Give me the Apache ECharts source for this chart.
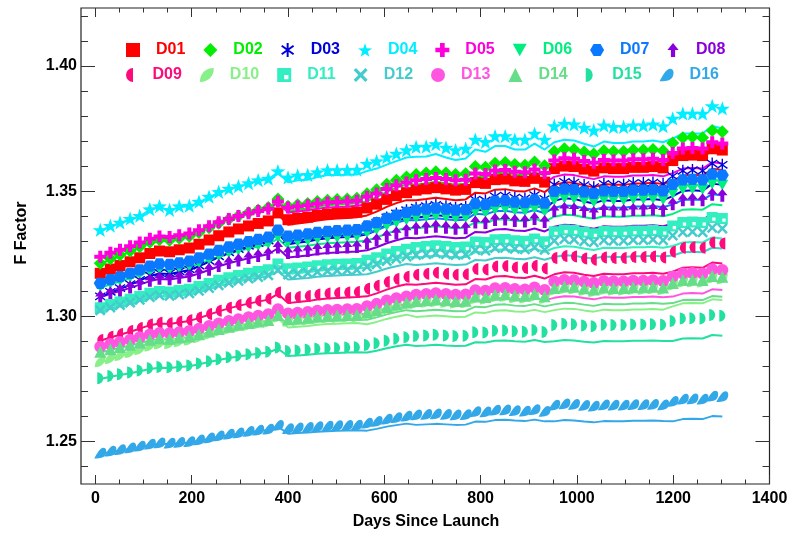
<!DOCTYPE html>
<html><head><meta charset="utf-8">
<script src="https://cdn.jsdelivr.net/npm/echarts@6.0.0/dist/echarts.min.js"></script>
<style>html,body{margin:0;padding:0;background:#fff}#c{width:793px;height:537px}</style>
</head><body><div id="c"></div>
<script>
// Days since launch (x of every marker / line vertex)
const days = [10,31,51,72,92,113,133,154,174,195,215,236,256,277,297,318,338,359,379,400,420,441,461,482,502,523,543,564,584,605,625,646,666,687,707,728,748,769,789,810,830,851,871,892,912,933,953,974,994,1015,1035,1056,1076,1097,1117,1138,1158,1179,1199,1220,1240,1261,1281,1302];

// Tick labels
const xMajor = [0,200,400,600,800,1000,1200,1400];
const xMinor = [50,100,150,250,300,350,450,500,550,650,700,750,850,900,950,1050,1100,1150,1250,1300,1350];
const yMajor = [1.25,1.30,1.35,1.40];
const yMinor = [1.24,1.26,1.27,1.28,1.29,1.31,1.32,1.33,1.34,1.36,1.37,1.38,1.39,1.41,1.42];

const names = ['D01','D02','D03','D04','D05','D06','D07','D08','D09','D10','D11','D12','D13','D14','D15','D16'];

// Markers (F factor) and fitted lines per detector
const D01 = [1.3172,1.3189,1.3203,1.3218,1.3234,1.3251,1.3261,1.3258,1.3266,1.3273,1.3288,1.3305,1.3322,1.3337,1.3349,1.3361,1.3371,1.3381,1.3413,1.3386,1.3391,1.3396,1.3403,1.3408,1.3411,1.3413,1.3416,1.3433,1.3448,1.3467,1.3482,1.3494,1.3504,1.3509,1.3514,1.3509,1.3504,1.3507,1.3534,1.3531,1.3546,1.3548,1.3541,1.3539,1.3551,1.3536,1.3590,1.3600,1.3598,1.3588,1.3580,1.3593,1.3590,1.3590,1.3595,1.3595,1.3598,1.3593,1.3622,1.3642,1.3644,1.3642,1.3669,1.3664];
const D01_fit = [1.3169,1.3186,1.3200,1.3215,1.3231,1.3248,1.3258,1.3255,1.3263,1.3270,1.3285,1.3302,1.3319,1.3334,1.3346,1.3358,1.3368,1.3378,1.3408,1.3366,1.3371,1.3376,1.3383,1.3388,1.3391,1.3393,1.3396,1.3403,1.3418,1.3437,1.3452,1.3464,1.3464,1.3469,1.3474,1.3469,1.3464,1.3467,1.3494,1.3491,1.3506,1.3508,1.3501,1.3499,1.3511,1.3496,1.3525,1.3535,1.3533,1.3523,1.3515,1.3528,1.3525,1.3525,1.3530,1.3530,1.3533,1.3528,1.3542,1.3562,1.3564,1.3562,1.3589,1.3584];

const D02 = [1.3212,1.3230,1.3245,1.3261,1.3278,1.3296,1.3306,1.3304,1.3312,1.3320,1.3335,1.3354,1.3372,1.3388,1.3401,1.3414,1.3425,1.3435,1.3469,1.3440,1.3446,1.3451,1.3459,1.3464,1.3467,1.3469,1.3472,1.3490,1.3506,1.3527,1.3543,1.3556,1.3566,1.3572,1.3577,1.3572,1.3566,1.3569,1.3598,1.3595,1.3611,1.3614,1.3606,1.3603,1.3616,1.3601,1.3658,1.3669,1.3666,1.3656,1.3648,1.3661,1.3658,1.3658,1.3664,1.3664,1.3666,1.3661,1.3692,1.3713,1.3716,1.3713,1.3742,1.3737];
const D02_fit = [1.3209,1.3227,1.3242,1.3258,1.3275,1.3293,1.3303,1.3301,1.3309,1.3317,1.3332,1.3351,1.3369,1.3385,1.3398,1.3411,1.3422,1.3432,1.3464,1.3420,1.3426,1.3431,1.3439,1.3444,1.3447,1.3449,1.3452,1.3460,1.3476,1.3497,1.3513,1.3526,1.3526,1.3532,1.3537,1.3532,1.3526,1.3529,1.3558,1.3555,1.3571,1.3574,1.3566,1.3563,1.3576,1.3561,1.3593,1.3604,1.3601,1.3591,1.3583,1.3596,1.3593,1.3593,1.3599,1.3599,1.3601,1.3596,1.3612,1.3633,1.3636,1.3633,1.3662,1.3657];

const D03 = [1.3080,1.3098,1.3113,1.3129,1.3146,1.3164,1.3174,1.3172,1.3180,1.3188,1.3203,1.3222,1.3240,1.3256,1.3269,1.3282,1.3293,1.3303,1.3337,1.3308,1.3314,1.3319,1.3327,1.3332,1.3335,1.3337,1.3340,1.3358,1.3374,1.3395,1.3411,1.3424,1.3434,1.3440,1.3445,1.3440,1.3434,1.3437,1.3466,1.3463,1.3479,1.3482,1.3474,1.3471,1.3484,1.3469,1.3526,1.3537,1.3534,1.3524,1.3516,1.3529,1.3526,1.3526,1.3532,1.3532,1.3534,1.3529,1.3560,1.3581,1.3584,1.3581,1.3610,1.3605];
const D03_fit = [1.3077,1.3095,1.3110,1.3126,1.3143,1.3161,1.3171,1.3169,1.3177,1.3185,1.3200,1.3219,1.3237,1.3253,1.3266,1.3279,1.3290,1.3300,1.3332,1.3288,1.3294,1.3299,1.3307,1.3312,1.3315,1.3317,1.3320,1.3328,1.3344,1.3365,1.3381,1.3394,1.3394,1.3400,1.3405,1.3400,1.3394,1.3397,1.3426,1.3423,1.3439,1.3442,1.3434,1.3431,1.3444,1.3429,1.3461,1.3472,1.3469,1.3459,1.3451,1.3464,1.3461,1.3461,1.3467,1.3467,1.3469,1.3464,1.3480,1.3501,1.3504,1.3501,1.3530,1.3525];

const D04 = [1.3345,1.3362,1.3375,1.3390,1.3402,1.3428,1.3440,1.3425,1.3440,1.3442,1.3458,1.3478,1.3497,1.3510,1.3520,1.3532,1.3544,1.3550,1.3580,1.3555,1.3563,1.3565,1.3576,1.3584,1.3584,1.3585,1.3586,1.3610,1.3620,1.3636,1.3650,1.3664,1.3677,1.3678,1.3688,1.3674,1.3664,1.3670,1.3706,1.3697,1.3720,1.3720,1.3706,1.3706,1.3730,1.3706,1.3760,1.3770,1.3767,1.3754,1.3743,1.3763,1.3757,1.3757,1.3763,1.3763,1.3767,1.3760,1.3790,1.3810,1.3810,1.3810,1.3840,1.3830];
const D04_fit = [1.3342,1.3359,1.3372,1.3387,1.3399,1.3425,1.3437,1.3422,1.3437,1.3439,1.3455,1.3475,1.3494,1.3507,1.3517,1.3529,1.3541,1.3547,1.3575,1.3535,1.3543,1.3545,1.3556,1.3564,1.3564,1.3565,1.3566,1.3580,1.3590,1.3606,1.3620,1.3634,1.3637,1.3638,1.3648,1.3634,1.3624,1.3630,1.3666,1.3657,1.3680,1.3680,1.3666,1.3666,1.3690,1.3666,1.3695,1.3705,1.3702,1.3689,1.3678,1.3698,1.3692,1.3692,1.3698,1.3698,1.3702,1.3695,1.3710,1.3730,1.3730,1.3730,1.3760,1.3750];

const D05 = [1.3238,1.3254,1.3266,1.3280,1.3295,1.3310,1.3319,1.3317,1.3324,1.3331,1.3344,1.3360,1.3376,1.3389,1.3401,1.3412,1.3421,1.3430,1.3459,1.3435,1.3439,1.3444,1.3450,1.3455,1.3457,1.3459,1.3462,1.3478,1.3491,1.3509,1.3523,1.3534,1.3543,1.3548,1.3552,1.3548,1.3543,1.3545,1.3570,1.3568,1.3582,1.3584,1.3577,1.3575,1.3586,1.3572,1.3622,1.3631,1.3629,1.3620,1.3613,1.3624,1.3622,1.3622,1.3627,1.3627,1.3629,1.3624,1.3652,1.3670,1.3672,1.3670,1.3695,1.3690];
const D05_fit = [1.3235,1.3251,1.3263,1.3277,1.3292,1.3307,1.3316,1.3314,1.3321,1.3328,1.3341,1.3357,1.3373,1.3386,1.3398,1.3409,1.3418,1.3427,1.3454,1.3415,1.3419,1.3424,1.3430,1.3435,1.3437,1.3439,1.3442,1.3448,1.3461,1.3479,1.3493,1.3504,1.3503,1.3508,1.3512,1.3508,1.3503,1.3505,1.3530,1.3528,1.3542,1.3544,1.3537,1.3535,1.3546,1.3532,1.3557,1.3566,1.3564,1.3555,1.3548,1.3559,1.3557,1.3557,1.3562,1.3562,1.3564,1.3559,1.3572,1.3590,1.3592,1.3590,1.3615,1.3610];

const D06 = [1.3117,1.3131,1.3142,1.3155,1.3168,1.3182,1.3190,1.3188,1.3194,1.3200,1.3213,1.3227,1.3241,1.3253,1.3264,1.3274,1.3282,1.3290,1.3316,1.3294,1.3298,1.3302,1.3308,1.3312,1.3314,1.3316,1.3318,1.3333,1.3345,1.3361,1.3373,1.3384,1.3392,1.3396,1.3400,1.3396,1.3392,1.3394,1.3416,1.3414,1.3426,1.3428,1.3422,1.3420,1.3430,1.3418,1.3463,1.3471,1.3469,1.3461,1.3455,1.3465,1.3463,1.3463,1.3467,1.3467,1.3469,1.3465,1.3489,1.3506,1.3508,1.3506,1.3528,1.3524];
const D06_fit = [1.3114,1.3128,1.3139,1.3152,1.3165,1.3179,1.3187,1.3185,1.3191,1.3197,1.3210,1.3224,1.3238,1.3250,1.3261,1.3271,1.3279,1.3287,1.3311,1.3274,1.3278,1.3282,1.3288,1.3292,1.3294,1.3296,1.3298,1.3303,1.3315,1.3331,1.3343,1.3354,1.3352,1.3356,1.3360,1.3356,1.3352,1.3354,1.3376,1.3374,1.3386,1.3388,1.3382,1.3380,1.3390,1.3378,1.3398,1.3406,1.3404,1.3396,1.3390,1.3400,1.3398,1.3398,1.3402,1.3402,1.3404,1.3400,1.3409,1.3426,1.3428,1.3426,1.3448,1.3444];

const D07 = [1.3132,1.3147,1.3159,1.3172,1.3186,1.3201,1.3210,1.3208,1.3214,1.3221,1.3234,1.3249,1.3264,1.3277,1.3288,1.3298,1.3307,1.3316,1.3344,1.3320,1.3324,1.3329,1.3335,1.3339,1.3342,1.3344,1.3346,1.3361,1.3374,1.3391,1.3404,1.3415,1.3424,1.3428,1.3432,1.3428,1.3424,1.3426,1.3450,1.3447,1.3460,1.3462,1.3456,1.3454,1.3465,1.3452,1.3499,1.3508,1.3506,1.3497,1.3491,1.3501,1.3499,1.3499,1.3504,1.3504,1.3506,1.3501,1.3527,1.3545,1.3547,1.3545,1.3568,1.3564];
const D07_fit = [1.3129,1.3144,1.3156,1.3169,1.3183,1.3198,1.3207,1.3205,1.3211,1.3218,1.3231,1.3246,1.3261,1.3274,1.3285,1.3295,1.3304,1.3313,1.3339,1.3300,1.3304,1.3309,1.3315,1.3319,1.3322,1.3324,1.3326,1.3331,1.3344,1.3361,1.3374,1.3385,1.3384,1.3388,1.3392,1.3388,1.3384,1.3386,1.3410,1.3407,1.3420,1.3422,1.3416,1.3414,1.3425,1.3412,1.3434,1.3443,1.3441,1.3432,1.3426,1.3436,1.3434,1.3434,1.3439,1.3439,1.3441,1.3436,1.3447,1.3465,1.3467,1.3465,1.3488,1.3484];

const D08 = [1.3079,1.3093,1.3104,1.3117,1.3130,1.3144,1.3152,1.3150,1.3156,1.3162,1.3174,1.3188,1.3203,1.3215,1.3225,1.3235,1.3243,1.3251,1.3277,1.3255,1.3259,1.3263,1.3269,1.3273,1.3275,1.3277,1.3279,1.3294,1.3306,1.3322,1.3334,1.3344,1.3352,1.3356,1.3360,1.3356,1.3352,1.3354,1.3377,1.3375,1.3387,1.3389,1.3383,1.3381,1.3391,1.3379,1.3423,1.3431,1.3429,1.3421,1.3415,1.3425,1.3423,1.3423,1.3427,1.3427,1.3429,1.3425,1.3450,1.3466,1.3468,1.3466,1.3488,1.3484];
const D08_fit = [1.3076,1.3090,1.3101,1.3114,1.3127,1.3141,1.3149,1.3147,1.3153,1.3159,1.3171,1.3185,1.3200,1.3212,1.3222,1.3232,1.3240,1.3248,1.3272,1.3235,1.3239,1.3243,1.3249,1.3253,1.3255,1.3257,1.3259,1.3264,1.3276,1.3292,1.3304,1.3314,1.3312,1.3316,1.3320,1.3316,1.3312,1.3314,1.3337,1.3335,1.3347,1.3349,1.3343,1.3341,1.3351,1.3339,1.3358,1.3366,1.3364,1.3356,1.3350,1.3360,1.3358,1.3358,1.3362,1.3362,1.3364,1.3360,1.3370,1.3386,1.3388,1.3386,1.3408,1.3404];

const D09 = [1.2906,1.2919,1.2930,1.2942,1.2954,1.2968,1.2975,1.2973,1.2979,1.2985,1.2996,1.3010,1.3023,1.3035,1.3045,1.3054,1.3062,1.3070,1.3095,1.3073,1.3077,1.3081,1.3087,1.3091,1.3093,1.3095,1.3097,1.3110,1.3122,1.3137,1.3149,1.3158,1.3166,1.3170,1.3174,1.3170,1.3166,1.3168,1.3189,1.3187,1.3199,1.3201,1.3195,1.3193,1.3202,1.3191,1.3233,1.3241,1.3239,1.3231,1.3226,1.3235,1.3233,1.3233,1.3237,1.3237,1.3239,1.3235,1.3258,1.3274,1.3276,1.3274,1.3295,1.3291];
const D09_fit = [1.2903,1.2916,1.2927,1.2939,1.2951,1.2965,1.2972,1.2970,1.2976,1.2982,1.2993,1.3007,1.3020,1.3032,1.3042,1.3051,1.3059,1.3067,1.3090,1.3053,1.3057,1.3061,1.3067,1.3071,1.3073,1.3075,1.3077,1.3080,1.3092,1.3107,1.3119,1.3128,1.3126,1.3130,1.3134,1.3130,1.3126,1.3128,1.3149,1.3147,1.3159,1.3161,1.3155,1.3153,1.3162,1.3151,1.3168,1.3176,1.3174,1.3166,1.3161,1.3170,1.3168,1.3168,1.3172,1.3172,1.3174,1.3170,1.3178,1.3194,1.3196,1.3194,1.3215,1.3211];

const D10 = [1.2819,1.2832,1.2844,1.2856,1.2868,1.2882,1.2891,1.2892,1.2900,1.2906,1.2917,1.2930,1.2942,1.2951,1.2959,1.2966,1.2972,1.2978,1.2998,1.2981,1.2984,1.2987,1.2992,1.2995,1.2996,1.2998,1.2999,1.3009,1.3018,1.3030,1.3039,1.3047,1.3053,1.3056,1.3059,1.3056,1.3053,1.3054,1.3071,1.3069,1.3078,1.3080,1.3075,1.3074,1.3081,1.3072,1.3105,1.3111,1.3110,1.3104,1.3099,1.3107,1.3105,1.3105,1.3108,1.3108,1.3110,1.3107,1.3125,1.3137,1.3138,1.3137,1.3153,1.3150];
const D10_fit = [1.2816,1.2829,1.2841,1.2853,1.2865,1.2879,1.2888,1.2889,1.2897,1.2903,1.2914,1.2927,1.2939,1.2948,1.2956,1.2963,1.2969,1.2975,1.2993,1.2956,1.2959,1.2962,1.2967,1.2970,1.2971,1.2973,1.2974,1.2969,1.2978,1.2990,1.2999,1.3007,1.2998,1.3001,1.3004,1.3001,1.2998,1.2999,1.3016,1.3014,1.3023,1.3025,1.3020,1.3019,1.3026,1.3017,1.3025,1.3031,1.3030,1.3024,1.3019,1.3027,1.3025,1.3025,1.3028,1.3028,1.3030,1.3027,1.3040,1.3052,1.3053,1.3052,1.3068,1.3065];

const D11 = [1.3035,1.3047,1.3057,1.3068,1.3079,1.3092,1.3099,1.3097,1.3103,1.3108,1.3119,1.3131,1.3144,1.3154,1.3163,1.3172,1.3179,1.3186,1.3209,1.3190,1.3193,1.3197,1.3202,1.3206,1.3208,1.3209,1.3211,1.3224,1.3234,1.3249,1.3259,1.3268,1.3275,1.3279,1.3282,1.3279,1.3275,1.3277,1.3297,1.3295,1.3306,1.3307,1.3302,1.3300,1.3309,1.3298,1.3338,1.3345,1.3343,1.3336,1.3330,1.3339,1.3338,1.3338,1.3341,1.3341,1.3343,1.3339,1.3361,1.3375,1.3377,1.3375,1.3395,1.3391];
const D11_fit = [1.3032,1.3044,1.3054,1.3065,1.3076,1.3089,1.3096,1.3094,1.3100,1.3105,1.3116,1.3128,1.3141,1.3151,1.3160,1.3169,1.3176,1.3183,1.3204,1.3170,1.3173,1.3177,1.3182,1.3186,1.3188,1.3189,1.3191,1.3194,1.3204,1.3219,1.3229,1.3238,1.3235,1.3239,1.3242,1.3239,1.3235,1.3237,1.3257,1.3255,1.3266,1.3267,1.3262,1.3260,1.3269,1.3258,1.3273,1.3280,1.3278,1.3271,1.3265,1.3274,1.3273,1.3273,1.3276,1.3276,1.3278,1.3274,1.3281,1.3295,1.3297,1.3295,1.3315,1.3311];

const D12 = [1.3025,1.3036,1.3045,1.3055,1.3066,1.3077,1.3084,1.3082,1.3087,1.3092,1.3102,1.3113,1.3124,1.3134,1.3142,1.3151,1.3157,1.3164,1.3185,1.3167,1.3170,1.3173,1.3178,1.3181,1.3183,1.3185,1.3186,1.3198,1.3208,1.3221,1.3230,1.3239,1.3245,1.3248,1.3252,1.3248,1.3245,1.3247,1.3265,1.3263,1.3273,1.3274,1.3270,1.3268,1.3276,1.3266,1.3302,1.3309,1.3307,1.3300,1.3296,1.3304,1.3302,1.3302,1.3305,1.3305,1.3307,1.3304,1.3323,1.3336,1.3338,1.3336,1.3354,1.3351];
const D12_fit = [1.3022,1.3033,1.3042,1.3052,1.3063,1.3074,1.3081,1.3079,1.3084,1.3089,1.3099,1.3110,1.3121,1.3131,1.3139,1.3148,1.3154,1.3161,1.3180,1.3147,1.3150,1.3153,1.3158,1.3161,1.3163,1.3165,1.3166,1.3168,1.3178,1.3191,1.3200,1.3209,1.3205,1.3208,1.3212,1.3208,1.3205,1.3207,1.3225,1.3223,1.3233,1.3234,1.3230,1.3228,1.3236,1.3226,1.3237,1.3244,1.3242,1.3235,1.3231,1.3239,1.3237,1.3237,1.3240,1.3240,1.3242,1.3239,1.3243,1.3256,1.3258,1.3256,1.3274,1.3271];

const D13 = [1.2879,1.2890,1.2898,1.2907,1.2917,1.2928,1.2934,1.2933,1.2937,1.2942,1.2951,1.2962,1.2972,1.2982,1.2989,1.2997,1.3003,1.3009,1.3029,1.3012,1.3015,1.3018,1.3023,1.3026,1.3027,1.3029,1.3030,1.3041,1.3050,1.3063,1.3072,1.3079,1.3086,1.3089,1.3092,1.3089,1.3086,1.3087,1.3104,1.3102,1.3112,1.3113,1.3109,1.3107,1.3115,1.3105,1.3139,1.3145,1.3144,1.3138,1.3133,1.3141,1.3139,1.3139,1.3142,1.3142,1.3144,1.3141,1.3159,1.3171,1.3173,1.3171,1.3188,1.3185];
const D13_fit = [1.2876,1.2887,1.2895,1.2904,1.2914,1.2925,1.2931,1.2930,1.2934,1.2939,1.2948,1.2959,1.2969,1.2979,1.2986,1.2994,1.3000,1.3006,1.3024,1.2992,1.2995,1.2998,1.3003,1.3006,1.3007,1.3009,1.3010,1.3011,1.3020,1.3033,1.3042,1.3049,1.3046,1.3049,1.3052,1.3049,1.3046,1.3047,1.3064,1.3062,1.3072,1.3073,1.3069,1.3067,1.3075,1.3065,1.3074,1.3080,1.3079,1.3073,1.3068,1.3076,1.3074,1.3074,1.3077,1.3077,1.3079,1.3076,1.3079,1.3091,1.3093,1.3091,1.3108,1.3105];

const D14 = [1.2859,1.2869,1.2878,1.2887,1.2896,1.2907,1.2913,1.2911,1.2916,1.2920,1.2929,1.2940,1.2950,1.2959,1.2967,1.2974,1.2980,1.2986,1.3006,1.2989,1.2992,1.2995,1.3000,1.3003,1.3004,1.3006,1.3007,1.3017,1.3026,1.3038,1.3047,1.3055,1.3061,1.3064,1.3067,1.3064,1.3061,1.3062,1.3079,1.3077,1.3086,1.3088,1.3083,1.3082,1.3089,1.3080,1.3113,1.3119,1.3118,1.3112,1.3107,1.3115,1.3113,1.3113,1.3116,1.3116,1.3118,1.3115,1.3133,1.3145,1.3146,1.3145,1.3161,1.3158];
const D14_fit = [1.2856,1.2866,1.2875,1.2884,1.2893,1.2904,1.2910,1.2908,1.2913,1.2917,1.2926,1.2937,1.2947,1.2956,1.2964,1.2971,1.2977,1.2983,1.3001,1.2969,1.2972,1.2975,1.2980,1.2983,1.2984,1.2986,1.2987,1.2987,1.2996,1.3008,1.3017,1.3025,1.3021,1.3024,1.3027,1.3024,1.3021,1.3022,1.3039,1.3037,1.3046,1.3048,1.3043,1.3042,1.3049,1.3040,1.3048,1.3054,1.3053,1.3047,1.3042,1.3050,1.3048,1.3048,1.3051,1.3051,1.3053,1.3050,1.3053,1.3065,1.3066,1.3065,1.3081,1.3078];

const D15 = [1.2753,1.2762,1.2769,1.2776,1.2784,1.2793,1.2798,1.2797,1.2801,1.2804,1.2812,1.2821,1.2829,1.2837,1.2843,1.2849,1.2854,1.2859,1.2876,1.2862,1.2864,1.2867,1.2871,1.2873,1.2874,1.2876,1.2877,1.2886,1.2893,1.2903,1.2911,1.2917,1.2922,1.2924,1.2927,1.2924,1.2922,1.2923,1.2937,1.2936,1.2943,1.2944,1.2941,1.2939,1.2946,1.2938,1.2966,1.2971,1.2969,1.2964,1.2961,1.2967,1.2966,1.2966,1.2968,1.2968,1.2969,1.2967,1.2982,1.2992,1.2993,1.2992,1.3006,1.3003];
const D15_fit = [1.2750,1.2759,1.2766,1.2773,1.2781,1.2790,1.2795,1.2794,1.2798,1.2801,1.2809,1.2818,1.2826,1.2834,1.2840,1.2846,1.2851,1.2856,1.2871,1.2842,1.2844,1.2847,1.2851,1.2853,1.2854,1.2856,1.2857,1.2856,1.2863,1.2873,1.2881,1.2887,1.2882,1.2884,1.2887,1.2884,1.2882,1.2883,1.2897,1.2896,1.2903,1.2904,1.2901,1.2899,1.2906,1.2898,1.2901,1.2906,1.2904,1.2899,1.2896,1.2902,1.2901,1.2901,1.2903,1.2903,1.2904,1.2902,1.2902,1.2912,1.2913,1.2912,1.2926,1.2923];

const D16 = [1.2454,1.2462,1.2468,1.2475,1.2482,1.2490,1.2495,1.2494,1.2497,1.2500,1.2507,1.2515,1.2523,1.2530,1.2535,1.2541,1.2546,1.2550,1.2565,1.2552,1.2555,1.2557,1.2560,1.2562,1.2564,1.2565,1.2566,1.2574,1.2581,1.2590,1.2596,1.2602,1.2607,1.2609,1.2611,1.2609,1.2607,1.2608,1.2620,1.2619,1.2626,1.2627,1.2624,1.2622,1.2628,1.2621,1.2646,1.2651,1.2649,1.2645,1.2642,1.2647,1.2646,1.2646,1.2648,1.2648,1.2649,1.2647,1.2661,1.2670,1.2671,1.2670,1.2682,1.2680];
const D16_fit = [1.2451,1.2459,1.2465,1.2472,1.2479,1.2487,1.2492,1.2491,1.2494,1.2497,1.2504,1.2512,1.2520,1.2527,1.2532,1.2538,1.2543,1.2547,1.2560,1.2532,1.2535,1.2537,1.2540,1.2542,1.2544,1.2545,1.2546,1.2544,1.2551,1.2560,1.2566,1.2572,1.2567,1.2569,1.2571,1.2569,1.2567,1.2568,1.2580,1.2579,1.2586,1.2587,1.2584,1.2582,1.2588,1.2581,1.2581,1.2586,1.2584,1.2580,1.2577,1.2582,1.2581,1.2581,1.2583,1.2583,1.2584,1.2582,1.2581,1.2590,1.2591,1.2590,1.2602,1.2600];

const markerData = [D01,D02,D03,D04,D05,D06,D07,D08,D09,D10,D11,D12,D13,D14,D15,D16];
const fitData = [D01_fit,D02_fit,D03_fit,D04_fit,D05_fit,D06_fit,D07_fit,D08_fit,D09_fit,D10_fit,D11_fit,D12_fit,D13_fit,D14_fit,D15_fit,D16_fit];

// ---------- styling ----------
const FONT = "'Liberation Sans', Arial, Helvetica, sans-serif";
const colors = ['#ff0000','#00ee00','#0000dd','#00eeff','#ff00dd','#00ee80','#0a78ff','#8a00dd',
                '#ff0a7a','#88f088','#33eec0','#44cccc','#ff55e0','#66dd88','#22e0a0','#33a8e8'];
const symbols = [
  'rect',
  'diamond',
  'path://M0,-1L0,1M-0.85,-0.6L0.85,0.6M-0.85,0.6L0.85,-0.6',
  'path://M0,-10L2.35,-3.24L9.51,-3.09L3.8,1.24L5.88,8.09L0,4L-5.88,8.09L-3.8,1.24L-9.51,-3.09L-2.35,-3.24Z',
  'path://M-1,-3H1V-1H3V1H1V3H-1V1H-3V-1H-1Z',
  'path://M-1,-0.9L1,-0.9L0,0.9Z',
  'path://M-1,0L-0.5,-0.866L0.5,-0.866L1,0L0.5,0.866L-0.5,0.866Z',
  'path://M0,-5L4,0H1.5V5H-1.5V0H-4Z',
  'path://M0,-1A1,1 0 0 0 0,1Z',
  'path://M-1,1C-1,-0.2 -0.2,-1 1,-1C1,0.2 0.2,1 -1,1Z',
  'path://M0,0H10V10H0Z M5,5V8H8V5Z',
  'path://M-3,-2L-2,-3L0,-1L2,-3L3,-2L1,0L3,2L2,3L0,1L-2,3L-3,2L-1,0Z',
  'circle',
  'triangle',
  'path://M0,-1A1,1 0 0 1 0,1Z',
  'path://M-1,1C-0.6,0.2 0,-0.9 0.6,-0.9C1.1,-0.9 1.2,-0.3 1,0.2C0.8,0.8 0.2,1 -1,1Z'
];
const sizes = [11,13,12,15,12,12,13,13,12,11,11,11,12,12,12,12];

const series = [];
names.forEach((n, k) => {
  series.push({
    name: n + ' fit', type: 'line', xAxisIndex: 0, yAxisIndex: 0,
    data: days.map((d, i) => [d, fitData[k][i]]),
    showSymbol: false, symbol: 'none', silent: true, animation: false, z: 2,
    itemStyle: { color: colors[k] },
    lineStyle: { color: colors[k], width: 2 }
  });
});
names.forEach((n, k) => {
  const st = { color: colors[k], opacity: 1 };
  if (k === 2) { st.borderColor = colors[k]; st.borderWidth = 1.4; }
  series.push({
    name: n, type: 'scatter', xAxisIndex: 0, yAxisIndex: 0,
    data: days.map((d, i) => [d, markerData[k][i]]),
    symbol: symbols[k], symbolSize: sizes[k], symbolKeepAspect: true,
    itemStyle: st, animation: false, z: 3, silent: true
  });
});

const tickColor = '#333';
const labelFont = { color: '#000', fontSize: 16, fontWeight: 'bold', fontFamily: FONT };
function xAx(pos, ticks, len, labels) {
  return {
    type: 'value', min: -30, max: 1400, position: pos,
    axisLine: { show: false, onZero: false }, splitLine: { show: false },
    axisTick: { show: true, inside: true, length: len, customValues: ticks, lineStyle: { color: tickColor, width: 1 } },
    axisLabel: Object.assign({ show: true, customValues: ticks, margin: 7,
      formatter: v => labels ? String(v) : '' }, labelFont)
  };
}
function yAx(pos, ticks, len, labels) {
  return {
    type: 'value', min: 1.2331, max: 1.4231, position: pos,
    axisLine: { show: false, onZero: false }, splitLine: { show: false },
    axisTick: { show: true, inside: true, length: len, customValues: ticks, lineStyle: { color: tickColor, width: 1 } },
    axisLabel: Object.assign({ show: true, customValues: ticks, margin: 4,
      formatter: v => labels ? v.toFixed(2) : '' }, labelFont)
  };
}

const rich = {};
names.forEach((n, k) => {
  rich[n] = { color: colors[k], fontSize: 16, fontWeight: 'bold', fontFamily: FONT, padding: [0, 0, 0, 11] };
});
function legendRow(list, top) {
  return {
    data: list, left: 121, top: top, orient: 'horizontal',
    itemWidth: 14, itemHeight: 14, itemGap: 18, selectedMode: false,
    formatter: n => '{' + n + '|' + n + '}',
    textStyle: { fontSize: 16, fontWeight: 'bold', fontFamily: FONT, rich: rich }
  };
}

const chart = echarts.init(document.getElementById('c'), null, { renderer: 'canvas' });
chart.setOption({
  backgroundColor: '#fff',
  animation: false,
  grid: { left: 81, top: 8, right: 23.5, bottom: 53, show: true, borderColor: '#222', borderWidth: 1.2, backgroundColor: 'transparent' },
  xAxis: [
    xAx('bottom', xMajor, 9, true),
    xAx('bottom', xMinor, 4.5, false),
    xAx('top', xMajor, 9, false),
    xAx('top', xMinor, 4.5, false)
  ],
  yAxis: [
    yAx('left', yMajor, 14, true),
    yAx('left', yMinor, 7, false),
    yAx('right', yMajor, 14, false),
    yAx('right', yMinor, 7, false)
  ],
  legend: [legendRow(names.slice(0, 8), 37), legendRow(names.slice(8), 62)],
  graphic: [
    { type: 'text', x: 22, y: 233, rotation: Math.PI / 2,
      style: { text: 'F Factor', fill: '#000', font: 'bold 16px ' + FONT, textAlign: 'center', textVerticalAlign: 'middle' } },
    { type: 'text', x: 426, y: 522,
      style: { text: 'Days Since Launch', fill: '#000', font: 'bold 16px ' + FONT, textAlign: 'center', textVerticalAlign: 'middle' } }
  ],
  series: series
});
</script>
</body></html>
